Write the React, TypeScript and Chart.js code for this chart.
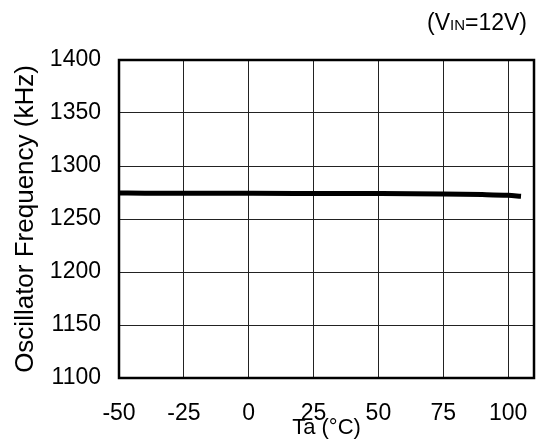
import React, { useEffect, useRef } from "react";
import { Chart, registerables } from "chart.js";

Chart.register(...registerables);

const temps = [-50, -40, -25, 0, 25, 50, 75, 90, 100, 105];
const freqs = [1274.6, 1274.3, 1274.2, 1274.2, 1274.1, 1274.0, 1273.6, 1273.0, 1272.3, 1271.5];
const xTicks = [-50, -25, 0, 25, 50, 75, 100];
const yTicks = [1100, 1150, 1200, 1250, 1300, 1350, 1400];
const xTitle = "Ta (°C)";
const yTitle = "Oscillator Frequency (kHz)";
const FONT = "'Liberation Sans', Arial, sans-serif";

const framePlugin = {
  id: "frame",
  afterDraw(chart: any) {
    const { ctx, chartArea } = chart;
    ctx.save();
    ctx.strokeStyle = "#000";
    ctx.lineWidth = 2.5;
    ctx.strokeRect(chartArea.left, chartArea.top, chartArea.right - chartArea.left, chartArea.bottom - chartArea.top);
    // condition label
    ctx.fillStyle = "#000";
    ctx.textBaseline = "alphabetic";
    const right = 527;
    const base = 30;
    const parts: [string, number][] = [["(V", 23], ["IN", 15], ["=12V)", 23]];
    let total = 0;
    parts.forEach(([t, s]) => {
      ctx.font = `${s}px ${FONT}`;
      total += ctx.measureText(t).width;
    });
    let x = right - total;
    ctx.textAlign = "left";
    parts.forEach(([t, s]) => {
      ctx.font = `${s}px ${FONT}`;
      ctx.fillText(t, x, base);
      x += ctx.measureText(t).width;
    });
    ctx.restore();
  },
};

export default function App() {
  const ref = useRef<HTMLCanvasElement | null>(null);
  useEffect(() => {
    document.body.style.margin = "0";
    const chart = new Chart(ref.current as HTMLCanvasElement, {
      type: "line",
      data: {
        datasets: [
          {
            data: temps.map((t, i) => ({ x: t, y: freqs[i] })),
            borderColor: "#000",
            borderWidth: 5,
            pointRadius: 0,
            cubicInterpolationMode: "monotone",
            fill: false,
          },
        ],
      },
      options: {
        responsive: false,
        animation: false,
        devicePixelRatio: 1,
        layout: { padding: { left: 0, right: 3, top: 60, bottom: 0 } },
        plugins: { legend: { display: false }, tooltip: { enabled: false } },
        scales: {
          x: {
            type: "linear",
            min: -50,
            max: 110,
            afterBuildTicks: (s: any) => {
              s.ticks = xTicks.map((v) => ({ value: v }));
            },
            afterFit: (s: any) => {
              s.height = 63;
              s.paddingLeft = 0;
              s.paddingRight = 0;
            },
            grid: { color: "#222", lineWidth: 1, drawTicks: false },
            border: { display: false },
            ticks: {
              color: "#000",
              font: { family: FONT, size: 23 },
              padding: 22,
              maxRotation: 0,
              autoSkip: false,
              callback: (v: any) => String(v),
            },
            title: {
              display: true,
              text: xTitle,
              color: "#000",
              font: { family: FONT, size: 22 },
              padding: { top: 0, bottom: 0 },
            },
          },
          y: {
            type: "linear",
            min: 1100,
            max: 1400,
            afterBuildTicks: (s: any) => {
              s.ticks = yTicks.map((v) => ({ value: v }));
            },
            afterFit: (s: any) => {
              s.width = 119;
            },
            grid: { color: "#222", lineWidth: 1, drawTicks: false },
            border: { display: false },
            ticks: {
              color: "#000",
              font: { family: FONT, size: 23 },
              padding: 18,
              callback: (v: any) => String(v),
            },
            title: {
              display: true,
              text: yTitle,
              color: "#000",
              font: { family: FONT, size: 26 },
              padding: { top: 10, bottom: 0 },
            },
          },
        },
      },
      plugins: [framePlugin],
    } as any);
    return () => chart.destroy();
  }, []);
  return (
    <div style={{ position: "absolute", left: 0, top: 0, width: 537, height: 441, background: "#fff" }}>
      <canvas ref={ref} width={537} height={441} />
    </div>
  );
}
